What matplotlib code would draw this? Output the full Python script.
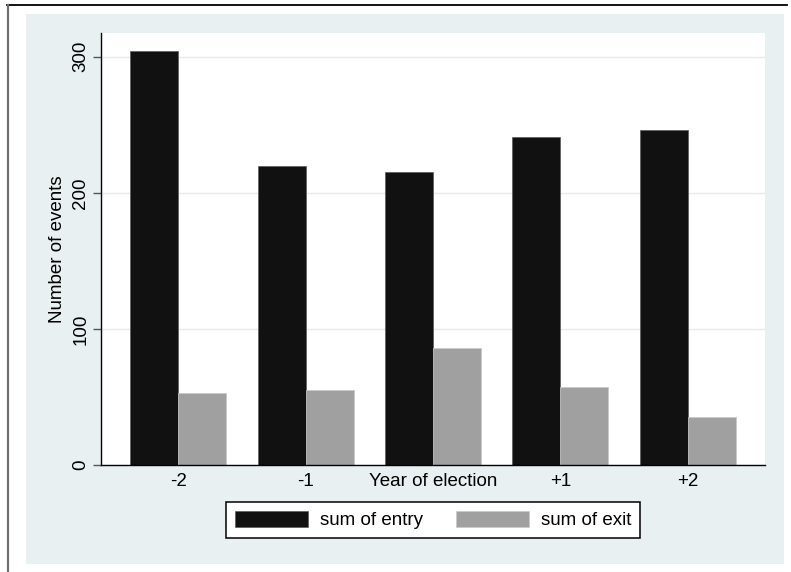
import matplotlib
matplotlib.use("Agg")
import matplotlib.pyplot as plt
from matplotlib.patches import Rectangle
from matplotlib.lines import Line2D
import numpy as np

categories = ["-2", "-1", "Year of election", "+1", "+2"]
entry = [304, 220, 215, 241, 246]
exit_ = [53, 55, 86, 57, 35]
series_labels = ["sum of entry", "sum of exit"]
yticks = [0, 100, 200, 300]

plt.rcParams['font.family'] = ['Liberation Sans', 'DejaVu Sans']
FS = 13.5

W, H = 791, 572
fig = plt.figure(figsize=(W / 100, H / 100), dpi=100)
fig.patch.set_facecolor("white")

def fx(px):
    return px / W

def fy(py):
    return 1 - py / H

# panel background
fig.patches.append(Rectangle((fx(26), fy(564)), fx(784) - fx(26), fy(14) - fy(564),
                             transform=fig.transFigure, facecolor="#e9f0f2",
                             edgecolor="none", zorder=-5))
# outer frame lines
fig.lines.append(Line2D([fx(7), fx(787)], [fy(5), fy(5)], transform=fig.transFigure,
                        color="black", linewidth=1.3, zorder=-4))
fig.lines.append(Line2D([fx(8), fx(8)], [fy(5), fy(572)], transform=fig.transFigure,
                        color="#707070", linewidth=1.6, zorder=-4))

ax = fig.add_axes([fx(101), fy(465), fx(765) - fx(101), fy(33) - fy(465)])
ax.set_zorder(1)
ax.set_facecolor("white")

x = np.arange(len(categories))
w = 0.377
b1 = ax.bar(x - w / 2, entry, width=w, color="#111111", edgecolor="#5a5a5a",
            linewidth=0.5, label=series_labels[0], zorder=3)
b2 = ax.bar(x + w / 2, exit_, width=w, color="#a0a0a0", edgecolor="#c8c8c8",
            linewidth=0.5, label=series_labels[1], zorder=3)

ax.set_xlim(-0.605, 4.605)
ax.set_ylim(0, 317.5)
ax.set_yticks(yticks)
ax.set_yticklabels([str(v) for v in yticks], rotation=90, va="center", fontsize=FS)
ax.set_xticks(x)
ax.set_xticklabels(categories, fontsize=FS)
ax.tick_params(axis="x", length=0, pad=5.5)
ax.tick_params(axis="y", length=5.8, width=1, color="#555555", pad=2.5)

ax.grid(axis="y", color="#e4ecef", linewidth=1, zorder=0)
ax.set_axisbelow(True)
for s in ["top", "right"]:
    ax.spines[s].set_visible(False)
for s in ["left", "bottom"]:
    ax.spines[s].set_color("black")
    ax.spines[s].set_linewidth(1)
    ax.spines[s].set_zorder(4)

fig.text(fx(58), fy(249), "Number of events", rotation=90, ha="center", va="center",
         fontsize=FS)

leg = fig.legend(handles=[b1, b2], labels=series_labels, loc="center",
                 bbox_to_anchor=(fx(433), fy(520)), ncol=2, fontsize=FS,
                 frameon=True, fancybox=False, edgecolor="black",
                 handlelength=3.9, handleheight=1.0, handletextpad=0.65,
                 columnspacing=1.75, borderpad=0.45)
leg.get_frame().set_linewidth(1.1)
leg.get_frame().set_facecolor("white")
leg.get_frame().set_alpha(1)

fig.savefig("out.png", dpi=100)
